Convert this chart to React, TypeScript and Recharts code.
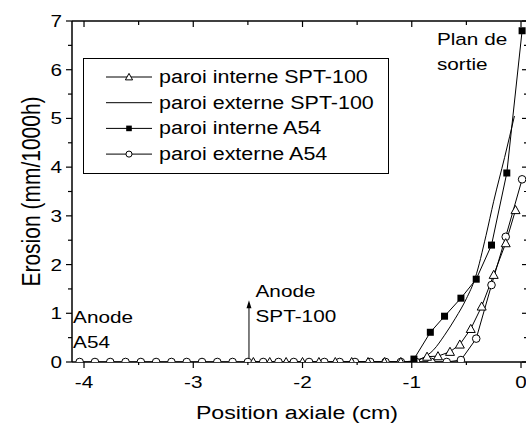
import React from 'react';
import { LineChart, Line, XAxis, YAxis, Legend, ReferenceDot, ReferenceLine } from 'recharts';

// paroi interne SPT-100 (triangles)
const triX = [-2.45, -2.3, -2.15, -2.0, -1.85, -1.7, -1.55, -1.4, -1.25, -1.1, -0.98, -0.86, -0.76, -0.65, -0.56, -0.46, -0.36, -0.25, -0.14, -0.05];
const triY = [0, 0, 0, 0, 0, 0, 0, 0, 0, 0, 0.02, 0.11, 0.12, 0.21, 0.36, 0.68, 1.14, 1.79, 2.44, 3.12];

// paroi externe SPT-100 (plain line)
const extX = [-2.5, -1.5, -1.0, -0.9, -0.8, -0.7, -0.6, -0.5, -0.42, -0.32, -0.25, -0.15, -0.06];
const extY = [0, 0, 0, 0.08, 0.25, 0.55, 0.9, 1.3, 1.72, 2.6, 3.3, 4.2, 5.05];

// paroi interne A54 (filled squares)
const sqX = [-0.98, -0.83, -0.7, -0.55, -0.41, -0.27, -0.13, 0.01];
const sqY = [0.06, 0.61, 0.94, 1.31, 1.7, 2.4, 3.88, 6.8];

// paroi externe A54 (open circles)
const cirX = [-4.04, -3.9, -3.76, -3.62, -3.48, -3.34, -3.2, -3.06, -2.92, -2.78, -2.64, -2.5, -2.36, -2.22, -2.08, -1.94, -1.8, -1.66, -1.52, -1.38, -1.24, -1.1, -0.96, -0.82, -0.68, -0.55, -0.41, -0.27, -0.14, 0.01];
const cirY = [0, 0, 0, 0, 0, 0, 0, 0, 0, 0, 0, 0, 0, 0, 0, 0, 0, 0, 0, 0, 0, 0, 0, 0, 0, 0.04, 0.48, 1.58, 2.57, 3.75];

const seriesNames = ['paroi interne SPT-100', 'paroi externe SPT-100', 'paroi interne A54', 'paroi externe A54'];
const xTicks = [-4, -3.5, -3, -2.5, -2, -1.5, -1, -0.5, 0];
const yTicks = [0, 0.5, 1, 1.5, 2, 2.5, 3, 3.5, 4, 4.5, 5, 5.5, 6, 6.5, 7];

const pts = (xs: number[], ys: number[]) => xs.map((x, i) => ({ x, y: ys[i] }));

const SX = 1.22;
const FS = 17;

const T = ({ x, y, anchor = 'start', size = FS, children }: any) => (
  <text transform={`translate(${x} ${y}) scale(${SX} 1)`} textAnchor={anchor} fontSize={size} fill="#000">
    {children}
  </text>
);

const marker = (kind: string, cx: number, cy: number, k = 1) => {
  if (kind === 'tri') {
    const h = 4.5 * k;
    return <path d={`M${cx},${cy - h} L${cx + h},${cy + h * 0.8} L${cx - h},${cy + h * 0.8} Z`} fill="#fff" stroke="#000" strokeWidth={1} />;
  }
  if (kind === 'sq') {
    const s = 3.5 * k;
    return <rect x={cx - s} y={cy - s} width={2 * s} height={2 * s} fill="#000" />;
  }
  if (kind === 'cir') {
    return <circle cx={cx} cy={cy} r={3.8 * k} fill="#fff" stroke="#000" strokeWidth={1} />;
  }
  return null;
};

// markers are cut at the plot frame, like in the original figure
const dotOf = (kind: string) => (p: any) => {
  if (p.cx == null || p.cy == null) return <g key={p.key} />;
  return (
    <g key={p.key} clipPath="url(#plotClip)">
      {marker(kind, p.cx, p.cy)}
    </g>
  );
};

const BottomTick = ({ x, y, payload }: any) => {
  const v = payload.value;
  const major = Number.isInteger(v);
  return (
    <g>
      <line x1={x} x2={x} y1={y} y2={y + (major ? 6 : 3)} stroke="#000" strokeWidth={1.2} />
      {major && <T x={x} y={y + 26} anchor="middle">{String(v)}</T>}
    </g>
  );
};

const TopTick = ({ x, y, payload }: any) => {
  const major = Number.isInteger(payload.value);
  return <line x1={x} x2={x} y1={y} y2={y + (major ? 6 : 4)} stroke="#000" strokeWidth={1.2} />;
};

const LeftTick = ({ x, y, payload }: any) => {
  const v = payload.value;
  const major = Number.isInteger(v);
  return (
    <g>
      <line x1={x - (major ? 6 : 4)} x2={x} y1={y} y2={y} stroke="#000" strokeWidth={1.2} />
      {major && <T x={x - 10} y={y + 6} anchor="end">{String(v)}</T>}
    </g>
  );
};

const RightTick = ({ x, y, payload }: any) => {
  const major = Number.isInteger(payload.value);
  return <line x1={x - (major ? 6 : 4)} x2={x} y1={y} y2={y} stroke="#000" strokeWidth={1.2} />;
};

const kinds = ['tri', 'none', 'sq', 'cir'];

const LegendBox = () => (
  <svg width={306} height={116} style={{ display: 'block' }}>
    <rect x={0.5} y={0.5} width={305} height={115} fill="#fff" stroke="#000" strokeWidth={1} />
    {seriesNames.map((name, i) => {
      const cy = 19 + i * 25.7;
      return (
        <g key={name}>
          <line x1={23} x2={69} y1={cy} y2={cy} stroke="#000" strokeWidth={1} />
          {marker(kinds[i], 46, cy, 0.8)}
          <T x={76} y={cy + 6} size={17.6}>{name}</T>
        </g>
      );
    })}
  </svg>
);

const Label = (lines: string[]) => (p: any) => (
  <g>
    {lines.map((s, i) => (
      <T key={s} x={p.cx} y={p.cy + i * 25}>{s}</T>
    ))}
  </g>
);

const ArrowHead = (p: any) => (
  <path d={`M${p.cx},${p.cy} L${p.cx + 2.5},${p.cy + 8} L${p.cx - 2.5},${p.cy + 8} Z`} fill="#000" />
);

export default function App() {
  return (
    <div
      style={{
        position: 'absolute',
        left: 0,
        top: 0,
        width: 526,
        height: 433,
        overflow: 'hidden',
        background: '#fff',
        fontFamily: '"Liberation Sans", Arial, sans-serif',
      }}
    >
      <LineChart width={540} height={433} margin={{ top: 0, right: 0, bottom: 0, left: 0 }}>
        <XAxis
          type="number"
          dataKey="x"
          domain={[-4.11, 0.064]}
          allowDataOverflow
          ticks={xTicks}
          interval={0}
          height={71}
          tickSize={0}
          tickMargin={0}
          tick={(p: any) => <BottomTick {...p} />}
          axisLine={{ stroke: '#000', strokeWidth: 1.5 }}
          label={(p: any) => (
            <T x={p.viewBox.x + p.viewBox.width / 2 - 3} y={419} anchor="middle" size={19}>
              Position axiale (cm)
            </T>
          )}
        />
        <XAxis
          xAxisId="top"
          orientation="top"
          type="number"
          dataKey="x"
          domain={[-4.11, 0.064]}
          allowDataOverflow
          ticks={xTicks}
          interval={0}
          height={21}
          tickSize={0}
          tickMargin={0}
          tick={(p: any) => <TopTick {...p} />}
          axisLine={{ stroke: '#000', strokeWidth: 1.5 }}
        />
        <YAxis
          type="number"
          domain={[0, 7]}
          allowDataOverflow
          ticks={yTicks}
          interval={0}
          width={72}
          tickSize={0}
          tickMargin={0}
          tick={(p: any) => <LeftTick {...p} />}
          axisLine={{ stroke: '#000', strokeWidth: 1.5 }}
          label={(p: any) => (
            <g>
              <defs>
                <clipPath id="plotClip">
                  <rect x={p.viewBox.x + p.viewBox.width} y={p.viewBox.y - 20} width={600} height={p.viewBox.height + 20} />
                </clipPath>
              </defs>
              <text
                transform={`translate(40 ${p.viewBox.y + p.viewBox.height / 2}) scale(${SX} 1) rotate(-90)`}
                textAnchor="middle"
                fontSize={21}
                fill="#000"
              >
                Erosion (mm/1000h)
              </text>
            </g>
          )}
        />
        <YAxis
          yAxisId="right"
          orientation="right"
          type="number"
          domain={[0, 7]}
          allowDataOverflow
          ticks={yTicks}
          interval={0}
          width={12}
          tickSize={0}
          tickMargin={0}
          tick={(p: any) => <RightTick {...p} />}
          axisLine={{ stroke: '#000', strokeWidth: 1.5 }}
        />
        <Legend
          layout="vertical"
          align="center"
          verticalAlign="middle"
          wrapperStyle={{ left: 83, top: 58, width: 306, height: 116 }}
          content={() => <LegendBox />}
        />
        <Line
          name={seriesNames[3]}
          data={pts(cirX, cirY)}
          dataKey="y"
          type="linear"
          stroke="#000"
          strokeWidth={1}
          dot={dotOf('cir')}
          isAnimationActive={false}
        />
        <Line
          name={seriesNames[1]}
          data={pts(extX, extY)}
          dataKey="y"
          type="monotone"
          stroke="#000"
          strokeWidth={1}
          dot={false}
          isAnimationActive={false}
        />
        <Line
          name={seriesNames[0]}
          data={pts(triX, triY)}
          dataKey="y"
          type="linear"
          stroke="#000"
          strokeWidth={1}
          dot={dotOf('tri')}
          isAnimationActive={false}
        />
        <Line
          name={seriesNames[2]}
          data={pts(sqX, sqY)}
          dataKey="y"
          type="linear"
          stroke="#000"
          strokeWidth={1}
          dot={dotOf('sq')}
          isAnimationActive={false}
        />
        <ReferenceLine segment={[{ x: -2.49, y: 0 }, { x: -2.49, y: 1.2 }]} stroke="#000" strokeWidth={1} />
        <ReferenceDot x={-2.49} y={1.27} r={0} shape={ArrowHead} />
        <ReferenceDot x={-4.1} y={0.8} r={0} shape={Label(['Anode', 'A54'])} />
        <ReferenceDot x={-2.43} y={1.33} r={0} shape={Label(['Anode', 'SPT-100'])} />
        <ReferenceDot x={-0.77} y={6.51} r={0} shape={Label(['Plan de', 'sortie'])} />
      </LineChart>
    </div>
  );
}
